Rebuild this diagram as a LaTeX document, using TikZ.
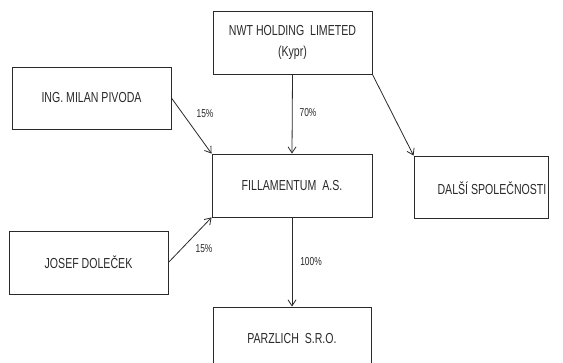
\documentclass[tikz,border=0pt]{standalone}
\usepackage{fontspec}
\setmainfont{Liberation Sans}[FakeStretch=0.73]
\usetikzlibrary{arrows.meta}
\definecolor{ink}{HTML}{2A2A2A}
\begin{document}
\begin{tikzpicture}[x=1pt,y=-1pt,
  box/.style={draw=ink,line width=0.9pt,rectangle,inner sep=0pt,text=ink,font=\fontsize{14.5}{23}\selectfont,align=center},
  pct/.style={text=ink,font=\fontsize{11.5}{12}\selectfont,inner sep=0pt},
  link/.style={draw=ink,line width=0.8pt,-{Straight Barb[length=6pt,width=8pt]}}]
\useasboundingbox (0,0) rectangle (563,362);
\clip (0,0) rectangle (563,362);
\fill[white] (0,0) rectangle (563,362);
\node[box,minimum width=159pt,minimum height=63pt] (nwt) at (292.5,42.5) {\raisebox{-2pt}{NWT HOLDING\ \ LIMETED}\\(Kypr)};
\node[box,minimum width=159pt,minimum height=62pt] (ing) at (91.5,98) {\raisebox{-1.5pt}{ING. MILAN PIVODA}};
\node[box,minimum width=160pt,minimum height=63pt] (fil) at (292,185.5) {FILLAMENTUM\ \ A.S.};
\node[box,minimum width=159pt,minimum height=63pt] (jos) at (88.5,262.5) {JOSEF DOLEČEK};
\node[box,minimum width=134pt,minimum height=62pt] (dal) at (481,187) {};
\node[text=ink,font=\fontsize{14.5}{16}\selectfont,inner sep=0pt] (daltext) at (492,188) {DALŠÍ SPOLEČNOSTI};
\node[box,minimum width=158pt,minimum height=63pt] (par) at (292,338.5) {PARZLICH\ \ S.R.O.};
\draw[link] (nwt.south) -- (fil.north);
\draw[link] (nwt.south east) -- (dal.north west);
\draw[link] (ing.east) -- (fil.north west);
\draw[link] (jos.east) -- (fil.south west);
\draw[link] (fil.south) -- (par.north);
\node[pct] (p1) at (205,114) {15\%};
\node[pct] (p2) at (308,113) {70\%};
\node[pct] (p3) at (204,249) {15\%};
\node[pct] (p4) at (311,262) {100\%};
\end{tikzpicture}
\end{document}
